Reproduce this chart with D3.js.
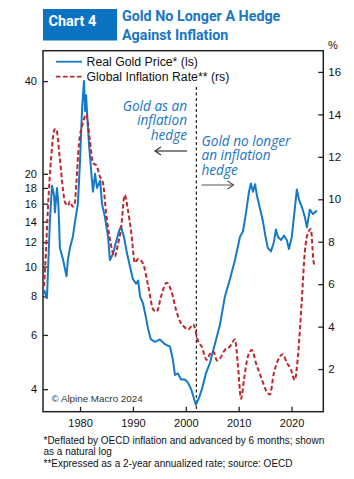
<!DOCTYPE html>
<html>
<head>
<meta charset="utf-8">
<script src="https://cdn.jsdelivr.net/npm/d3@7/dist/d3.min.js"></script>
<style>
  body { margin: 0; background: #fff; }
  text { font-family: "Liberation Sans", Arial, sans-serif; }
</style>
</head>
<body>
<div id="chart"></div>
<script>
// real gold price (left, log scale)
var goldYears = [1973.2, 1973.75, 1974.3, 1974.7, 1975.1, 1975.25, 1975.65, 1975.9, 1976.2, 1976.8,
    1977.45, 1977.7, 1978.1, 1978.65, 1979.05, 1979.6, 1980.0, 1980.4, 1980.75, 1980.95,
    1981.15, 1981.4, 1981.7, 1982.1, 1982.45, 1982.85, 1983.2, 1983.8, 1984.15, 1984.7,
    1985.3, 1985.65, 1986.25, 1986.8, 1987.35, 1987.75, 1988.3, 1988.9, 1989.45, 1990.0,
    1990.6, 1991.0, 1991.35, 1991.9, 1992.5, 1992.85, 1993.4, 1994.2, 1995.1, 1996.05,
    1997.0, 1997.55, 1997.95, 1998.5, 1999.1, 1999.85, 2000.4, 2001.0, 2001.35, 2001.9,
    2002.5, 2003.05, 2003.8, 2004.55, 2005.5, 2006.45, 2007.4, 2008.35, 2009.3, 2010.25,
    2010.8, 2011.4, 2011.95, 2012.3, 2012.7, 2013.1, 2013.45, 2014.0, 2014.6, 2015.0,
    2015.5, 2016.1, 2016.65, 2017.05, 2017.4, 2018.0, 2018.55, 2019.1, 2019.5, 2020.05,
    2020.45, 2021.0, 2021.4, 2021.95, 2022.5, 2022.9, 2023.45, 2024.05, 2024.8];
var goldValues = [8.4, 7.9, 14, 18.3, 17, 15, 18, 16, 11.5, 10.5,
    9.3, 10.5, 11.5, 12.5, 14, 16, 22, 33, 40, 32,
    36, 30, 25, 20.5, 17.5, 20, 18, 19, 16, 14.5,
    12.5, 10.5, 11, 12, 13, 13.5, 12.5, 11, 10, 9.1,
    8.8, 9.0, 8.0, 7.6, 6.8, 6.3, 5.8, 5.7, 5.8, 5.6,
    5.5, 5.0, 4.45, 4.5, 4.3, 4.3, 4.2, 4.0, 3.83, 3.56,
    3.75, 4.0, 4.5, 4.86, 5.6, 6.47, 8.0, 9.1, 10.5, 12.5,
    13, 15, 17.5, 18.6, 17.5, 18.5, 17, 15.5, 14, 12.7,
    11.5, 11.2, 12, 13.2, 12.5, 12.2, 12.6, 12.2, 11.4, 12.5,
    14.5, 17.8, 16.5, 15.6, 14.5, 13.4, 15.3, 14.8, 15.2];

// global inflation rate, % (right scale)
var inflYears = [1973.2, 1973.55, 1973.95, 1974.55, 1975.2, 1975.5, 1976.15, 1976.8, 1977.1, 1977.75,
    1978.05, 1978.65, 1979.0, 1979.3, 1979.8, 1980.55, 1981.2, 1981.85, 1982.45, 1983.1,
    1983.7, 1984.35, 1984.95, 1985.6, 1986.55, 1987.2, 1987.75, 1988.45, 1989.05, 1989.65,
    1990.4, 1991.0, 1991.95, 1992.9, 1993.85, 1994.5, 1995.3, 1996.4, 1997.35, 1998.15,
    1998.9, 1999.65, 2000.45, 2001.4, 2002.35, 2003.0, 2003.95, 2004.55, 2005.2, 2005.9,
    2006.45, 2007.4, 2008.35, 2009.3, 2009.85, 2010.45, 2011.0, 2011.75, 2012.5, 2013.25,
    2014.4, 2015.15, 2015.9, 2016.65, 2017.4, 2018.35, 2019.1, 2019.85, 2020.6, 2021.25,
    2021.9, 2022.5, 2023.15, 2023.65, 2024.1, 2024.3];
var inflValues = [5.9, 7.5, 9.65, 12.0, 13.3, 13.3, 12.0, 10.4, 9.9, 9.7,
    9.9, 9.65, 9.8, 10.75, 12.6, 13.6, 14.0, 12.8, 11.7, 11.6,
    11.1, 10.75, 9.3, 8.2, 7.3, 7.9, 8.6, 10.2, 9.5, 8.5,
    7.0, 7.2, 6.95, 5.9, 4.8, 4.7, 5.4, 6.07, 5.6, 4.8,
    4.25, 4.0, 3.86, 4.1, 3.3, 3.06, 2.43, 2.7, 2.83, 2.4,
    2.5, 2.9, 3.06, 3.4, 2.2, 0.6, 1.5, 2.6, 2.9, 2.3,
    1.5, 1.0, 0.8, 1.8, 2.4, 2.7, 2.3, 2.0, 1.48, 2.75,
    5.1, 7.5, 8.45, 8.6, 7.2, 6.86];

var leftTicks = [4, 6, 8, 10, 12, 14, 16, 18, 20, 40];
var rightTicks = [2, 4, 6, 8, 10, 12, 14, 16];
var yearTicks = [1980, 1990, 2000, 2010, 2020];
var breakYear = 2002;
var seriesNames = ["Real Gold Price* (ls)", "Global Inflation Rate** (rs)"];
var hedgeLabel = ["Gold as an", "inflation", "hedge"];
var noHedgeLabel = ["Gold no longer", "an inflation", "hedge"];
var footnotes = [
    "*Deflated by OECD inflation and advanced by 6 months; shown",
    "as a natural log",
    "**Expressed as a 2-year annualized rate; source: OECD"
];

var cBlue = "#1479c9", cRed = "#c0262e", cTitle = "#1a75c4";

var W = 354, H = 479;
var plot = { left: 43, right: 323.3, top: 50.7, bottom: 411.7 };

var svg = d3.select("#chart").append("svg")
    .attr("width", W).attr("height", H);

// title block
svg.append("rect")
    .attr("x", 43).attr("y", 9).attr("width", 74).attr("height", 31.5)
    .attr("fill", "#0a72c3");
svg.append("text")
    .attr("x", 48.5).attr("y", 26)
    .attr("fill", "#fff").attr("font-size", 14.5).attr("font-weight", "bold")
    .style("font-family", "Roboto, sans-serif")
    .text("Chart 4");
var title = svg.append("text")
    .attr("x", 122).attr("y", 20.8)
    .attr("fill", cTitle).attr("font-size", 14.3).attr("font-weight", "bold")
    .style("font-family", "Roboto, sans-serif");
title.append("tspan").attr("x", 122).text("Gold No Longer A Hedge");
title.append("tspan").attr("x", 122).attr("dy", 18.7).text("Against Inflation");

// scales
var x = d3.scaleLinear().domain([1973, 2026]).range([plot.left, plot.right]);
var yL = d3.scaleLog().domain([3.38, 50.2]).range([plot.bottom, plot.top]);
var yR = d3.scaleLinear().domain([0, 17]).range([411.5, plot.top]);

// axes
var gL = svg.append("g")
    .attr("transform", "translate(" + plot.left + ",0)")
    .call(d3.axisLeft(yL).tickValues(leftTicks).tickFormat(d3.format("d"))
        .tickSize(-5).tickPadding(6));
var gR = svg.append("g")
    .attr("transform", "translate(" + plot.right + ",0)")
    .call(d3.axisRight(yR).tickValues(rightTicks).tickSize(-5).tickPadding(5));
var gB = svg.append("g")
    .attr("transform", "translate(0," + plot.bottom + ")")
    .call(d3.axisBottom(x).tickValues(yearTicks).tickFormat(d3.format("d"))
        .tickSize(-5).tickPadding(7.5));
[gL, gR, gB].forEach(function (g) {
    g.select(".domain").remove();
    g.selectAll(".tick line").attr("stroke", "#222").attr("stroke-width", 1.3);
    g.selectAll(".tick text").attr("fill", "#111").attr("font-size", 11)
        .style("font-family", "'Liberation Sans', Arial, sans-serif");
});
gR.selectAll(".tick text").attr("font-size", 11.5);

svg.append("text")
    .attr("x", 328).attr("y", 49)
    .attr("font-size", 11).attr("fill", "#111")
    .text("%");

// frame
svg.append("rect")
    .attr("x", plot.left).attr("y", plot.top)
    .attr("width", plot.right - plot.left).attr("height", plot.bottom - plot.top)
    .attr("fill", "none").attr("stroke", "#222").attr("stroke-width", 1.5);

// break line
svg.append("line")
    .attr("x1", x(breakYear)).attr("x2", x(breakYear))
    .attr("y1", 87).attr("y2", plot.bottom)
    .attr("stroke", "#222").attr("stroke-width", 1.2)
    .attr("stroke-dasharray", "3,2.5");

// series
var gold = goldYears.map(function (d, i) { return [d, goldValues[i]]; });
var infl = inflYears.map(function (d, i) { return [d, inflValues[i]]; });

svg.append("path")
    .datum(gold)
    .attr("fill", "none").attr("stroke", cBlue).attr("stroke-width", 2)
    .attr("stroke-linejoin", "round")
    .attr("d", d3.line().x(function (d) { return x(d[0]); }).y(function (d) { return yL(d[1]); }));

svg.append("path")
    .datum(infl)
    .attr("fill", "none").attr("stroke", cRed).attr("stroke-width", 2)
    .attr("stroke-dasharray", "4.5,2.5")
    .attr("d", d3.line().curve(d3.curveMonotoneX)
        .x(function (d) { return x(d[0]); }).y(function (d) { return yR(d[1]); }));

// legend
var legend = svg.append("g");
legend.append("line")
    .attr("x1", 56).attr("x2", 82).attr("y1", 61.7).attr("y2", 61.7)
    .attr("stroke", cBlue).attr("stroke-width", 1.8);
legend.append("line")
    .attr("x1", 56).attr("x2", 82).attr("y1", 76.7).attr("y2", 76.7)
    .attr("stroke", cRed).attr("stroke-width", 1.8).attr("stroke-dasharray", "4.5,2.5");
legend.selectAll("text.lg")
    .data(seriesNames).enter().append("text")
    .attr("class", "lg")
    .attr("x", 86.5).attr("y", function (d, i) { return 66 + i * 15; })
    .attr("font-size", 12.3).attr("fill", "#111")
    .text(function (d) { return d; });

// annotations, one text block each
function block(lines, x0, y0, anchor) {
    var t = svg.append("text")
        .attr("x", x0).attr("y", y0)
        .attr("text-anchor", anchor)
        .attr("font-style", "italic").attr("fill", cTitle).attr("font-size", 13.6)
        .style("font-family", "'Open Sans', sans-serif");
    t.selectAll("tspan").data(lines).enter().append("tspan")
        .attr("x", x0).attr("dy", function (d, i) { return i ? 14.5 : 0; })
        .text(function (d) { return d; });
}
block(hedgeLabel, 187, 110.5, "end");
block(noHedgeLabel, 201.5, 145.5, "start");

function arrow(x1, x2, y, dir, color) {
    var g = svg.append("g").attr("stroke", color).attr("stroke-width", 1.2).attr("fill", "none");
    g.append("line").attr("x1", x1).attr("x2", x2).attr("y1", y).attr("y2", y);
    var tip = dir < 0 ? x1 : x2;
    g.append("path")
        .attr("d", "M" + (tip - dir * 6) + "," + (y - 4) + "L" + tip + "," + y + "L" + (tip - dir * 6) + "," + (y + 4));
}
arrow(155, 187, 151, -1, "#333");
arrow(201.5, 233.5, 185, 1, "#555");

// copyright
svg.append("text")
    .attr("x", 51.5).attr("y", 401.8)
    .attr("font-size", 9.8).attr("fill", "#333")
    .text("\u00a9 Alpine Macro 2024");

// footnotes
var fn = svg.append("text")
    .attr("x", 43.5).attr("y", 443.8)
    .attr("font-size", 10).attr("fill", "#111");
fn.selectAll("tspan").data(footnotes).enter().append("tspan")
    .attr("x", 43.5).attr("dy", function (d, i) { return i ? 11.5 : 0; })
    .text(function (d) { return d; });
</script>
</body>
</html>
